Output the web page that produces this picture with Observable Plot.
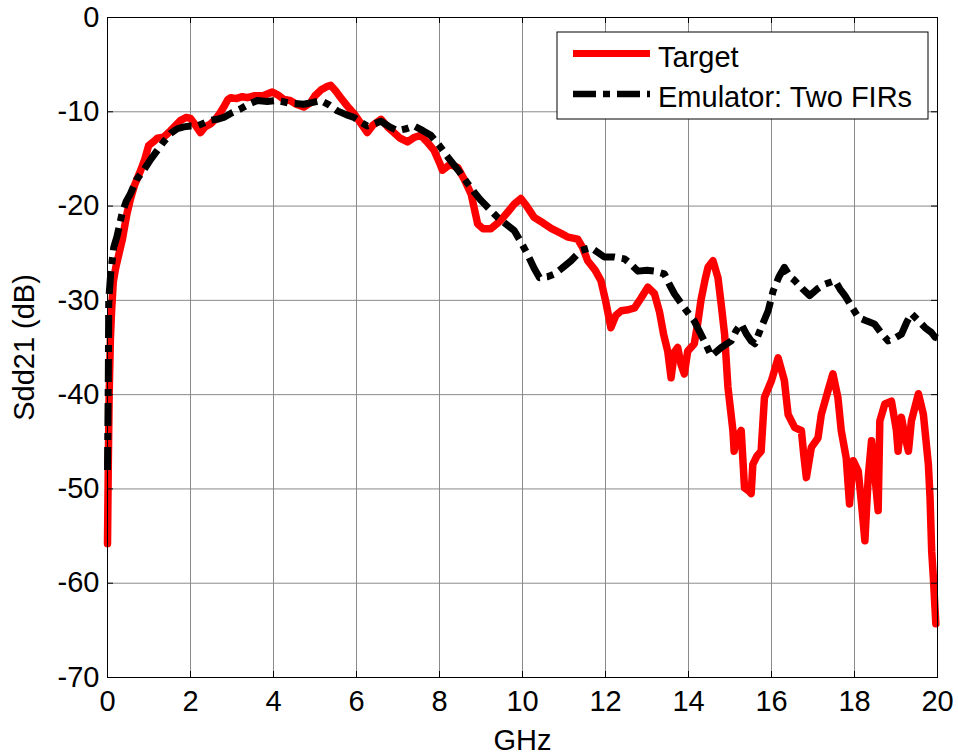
<!DOCTYPE html>
<html>
<head>
<meta charset="utf-8">
<script src="https://cdn.jsdelivr.net/npm/d3@7"></script>
<script src="https://cdn.jsdelivr.net/npm/@observablehq/plot@0.6"></script>
<style>
  html, body { margin: 0; padding: 0; background: #fff; }
  #chart { width: 958px; height: 756px; }
</style>
</head>
<body>
<div id="chart"></div>
<script>
// Sdd21 of the target channel versus the two-FIR emulator, in dB against GHz.
const targetFreq = [0.00,0.02,0.04,0.07,0.10,0.14,0.20,0.28,0.36,0.42,0.47,0.55,0.65,0.80,0.90,0.99,1.10,1.20,1.35,1.52,1.65,1.76,1.90,2.00,2.10,2.24,2.35,2.48,2.60,2.70,2.80,2.90,2.97,3.10,3.25,3.37,3.55,3.75,3.97,4.10,4.25,4.40,4.55,4.73,4.90,5.00,5.14,5.30,5.38,5.50,5.62,5.78,5.94,6.10,6.26,6.40,6.59,6.75,6.90,7.05,7.23,7.40,7.55,7.70,7.87,8.00,8.07,8.25,8.44,8.60,8.76,8.85,8.92,9.05,9.24,9.40,9.48,9.65,9.80,9.96,10.10,10.28,10.50,10.70,10.93,11.10,11.33,11.45,11.57,11.75,11.89,12.00,12.08,12.13,12.25,12.38,12.55,12.70,12.85,13.02,13.18,13.30,13.40,13.50,13.58,13.66,13.74,13.82,13.90,13.98,14.14,14.22,14.30,14.40,14.47,14.59,14.71,14.79,14.87,14.95,15.01,15.07,15.10,15.18,15.27,15.35,15.45,15.51,15.55,15.65,15.75,15.83,16.00,16.16,16.31,16.40,16.48,16.56,16.72,16.78,16.84,16.96,17.12,17.20,17.36,17.48,17.60,17.68,17.80,17.88,17.97,18.09,18.17,18.25,18.33,18.41,18.48,18.57,18.61,18.73,18.89,19.01,19.05,19.13,19.22,19.30,19.37,19.54,19.66,19.78,19.82,19.86,19.90,19.96];
const targetDb = [-55.8,-47,-40,-34,-31,-28,-26.5,-25,-23.5,-22,-20.8,-19.3,-17.8,-16.2,-15,-13.6,-13.2,-12.8,-12.7,-12.0,-11.4,-10.9,-10.6,-10.7,-11.3,-12.2,-11.6,-11.3,-10.8,-10.2,-9.5,-8.7,-8.5,-8.6,-8.4,-8.5,-8.3,-8.3,-7.9,-8.2,-8.7,-8.8,-9.2,-9.5,-9.0,-8.3,-7.7,-7.3,-7.2,-7.8,-8.5,-9.4,-10.2,-11.2,-12.2,-11.4,-10.8,-11.6,-12.2,-12.8,-13.2,-12.7,-12.5,-13.2,-14.1,-15.4,-16.2,-15.6,-15.9,-17.2,-18.7,-20.5,-21.9,-22.4,-22.4,-21.8,-21.5,-20.6,-19.8,-19.2,-20.0,-21.2,-21.8,-22.4,-22.9,-23.3,-23.5,-24.4,-25.8,-26.8,-27.9,-30.0,-31.8,-32.9,-31.6,-31.1,-31.0,-30.8,-29.8,-28.6,-29.3,-31.2,-33.6,-35.4,-38.2,-35.5,-35.0,-36.8,-37.8,-35.4,-34.6,-32.5,-30.0,-27.8,-26.5,-25.8,-27.6,-30.5,-33.6,-39.2,-41.5,-43.8,-46.0,-44.5,-43.8,-49.9,-50.2,-50.5,-47.4,-46.5,-46.0,-40.3,-38.5,-36.1,-38.5,-42.1,-42.8,-43.5,-43.8,-46.5,-48.8,-45.6,-44.6,-42.1,-39.6,-37.8,-40.3,-43.8,-46.7,-51.6,-47.0,-48.1,-51.6,-55.5,-48.8,-44.9,-48.1,-52.3,-42.8,-41.0,-40.7,-43.8,-46.0,-42.4,-44.5,-46.0,-42.8,-39.9,-42.1,-47.4,-50.9,-56.6,-59.4,-64.3];

const emulatorFreq = [0.00,0.02,0.03,0.08,0.15,0.23,0.35,0.45,0.55,0.70,0.87,1.05,1.20,1.35,1.52,1.68,1.84,2.00,2.16,2.32,2.48,2.64,2.80,3.00,3.20,3.40,3.61,3.85,4.09,4.40,4.73,4.95,5.14,5.35,5.54,5.75,5.94,6.10,6.26,6.42,6.59,6.80,6.99,7.20,7.39,7.60,7.79,8.00,8.20,8.45,8.68,8.85,9.00,9.20,9.40,9.60,9.80,9.96,10.12,10.28,10.41,10.60,10.77,10.95,11.17,11.41,11.65,11.97,12.20,12.46,12.62,12.78,13.00,13.18,13.42,13.55,13.66,13.90,14.14,14.38,14.55,14.79,15.03,15.15,15.27,15.40,15.51,15.60,15.75,15.92,16.04,16.18,16.31,16.45,16.56,16.75,16.92,17.10,17.28,17.53,17.65,17.77,17.95,18.09,18.30,18.48,18.65,18.81,18.97,19.13,19.25,19.37,19.55,19.70,19.85,19.94,20.00];
const emulatorDb = [-48,-38,-30,-27,-24.4,-23.2,-20.8,-19.5,-18.7,-17.2,-16.2,-15,-14.1,-13.2,-12.3,-11.8,-11.6,-11.5,-11.5,-11.2,-10.9,-10.8,-10.6,-10.1,-9.7,-9.2,-8.8,-8.9,-8.8,-9.1,-9.2,-9.0,-8.8,-9.3,-9.9,-10.3,-10.6,-11.1,-11.5,-11.3,-11.0,-11.6,-12.0,-11.8,-11.5,-12.0,-12.5,-13.6,-14.8,-16.2,-17.6,-18.6,-19.4,-20.3,-21.2,-21.9,-22.6,-23.8,-25.1,-26.6,-27.6,-27.5,-27.2,-26.6,-25.8,-24.7,-24.4,-25.4,-25.4,-25.6,-26.2,-26.9,-26.8,-26.9,-27.2,-28.4,-29.3,-30.8,-32.2,-34.3,-35.9,-35.0,-34.3,-33.2,-32.5,-33.6,-34.3,-34.6,-32.9,-31.1,-29.0,-27.5,-26.5,-27.5,-27.9,-28.8,-29.5,-28.8,-28.3,-27.9,-28.8,-29.5,-30.8,-31.8,-32.2,-32.5,-33.5,-34.3,-34.0,-33.6,-32.4,-31.4,-32.2,-32.9,-33.4,-33.9,-34.0];

const xTicks = [0, 2, 4, 6, 8, 10, 12, 14, 16, 18, 20];
const yTicks = [0, -10, -20, -30, -40, -50, -60, -70];
const seriesNames = ["Target", "Emulator: Two FIRs"];

const target = targetFreq.map((f, i) => ({f, db: targetDb[i]}));
const emulator = emulatorFreq.map((f, i) => ({f, db: emulatorDb[i]}));

const W = 958, H = 756;
const mTop = 17, mRight = 21, mBottom = 79, mLeft = 107;
const innerW = W - mLeft - mRight, innerH = H - mTop - mBottom;
const font = "'Liberation Sans', Arial, Helvetica, sans-serif";
const fs = 29;
const tickLen = 6;
const dashDot = "23 7 7 7";

const chart = Plot.plot({
  width: W,
  height: H,
  marginTop: mTop,
  marginRight: mRight,
  marginBottom: mBottom,
  marginLeft: mLeft,
  style: {fontFamily: font, fontSize: `${fs}px`, background: "#fff", color: "#000", overflow: "visible"},
  x: {domain: [0, 20]},
  y: {domain: [-70, 0]},
  marks: [
    Plot.gridX(xTicks, {stroke: "#8a8a8a", strokeOpacity: 1, strokeWidth: 1}),
    Plot.gridY(yTicks, {stroke: "#8a8a8a", strokeOpacity: 1, strokeWidth: 1}),
    Plot.line(target, {x: "f", y: "db", stroke: "#ff0000", strokeWidth: 7.5, strokeLinejoin: "round", strokeLinecap: "round"}),
    Plot.line(emulator, {x: "f", y: "db", stroke: "#000", strokeWidth: 7, strokeLinejoin: "round", strokeLinecap: "butt", strokeDasharray: dashDot}),
    Plot.frame({stroke: "#000", strokeWidth: 1}),
    // inward tick marks on all four sides of the box
    Plot.tickX(xTicks, {insetTop: innerH - tickLen, stroke: "#000"}),
    Plot.tickX(xTicks, {insetBottom: innerH - tickLen, stroke: "#000"}),
    Plot.tickY(yTicks, {insetRight: innerW - tickLen, stroke: "#000"}),
    Plot.tickY(yTicks, {insetLeft: innerW - tickLen, stroke: "#000"}),
    Plot.axisX(xTicks, {tickSize: 0, tickPadding: 13, tickFormat: (d) => String(d), label: null, fontSize: fs}),
    Plot.axisY(yTicks, {tickSize: 0, tickPadding: 8, tickFormat: (d) => String(d), label: null, fontSize: fs}),
    Plot.text(["GHz"], {frameAnchor: "bottom", dy: 63, textAnchor: "middle", lineAnchor: "middle", fontSize: fs}),
    Plot.text(["Sdd21 (dB)"], {frameAnchor: "left", dx: -83, rotate: -90, textAnchor: "middle", lineAnchor: "middle", fontSize: fs})
  ]
});

document.getElementById("chart").appendChild(chart);

// legend box in the upper right corner of the axes
const svg = d3.select(chart);
const lg = svg.append("g").attr("font-family", font).attr("font-size", fs).attr("text-anchor", "start");
const box = {x: 557, y: 32, w: 371, h: 87};
lg.append("rect").attr("x", box.x).attr("y", box.y).attr("width", box.w).attr("height", box.h)
  .attr("fill", "#fff").attr("stroke", "#000").attr("stroke-width", 1);
const rows = [
  {name: seriesNames[0], stroke: "#ff0000", width: 7, dash: null, ly: 53.5, ty: 67},
  {name: seriesNames[1], stroke: "#000", width: 6.5, dash: dashDot, ly: 94, ty: 107}
];
for (const r of rows) {
  const ln = lg.append("line").attr("x1", box.x + 16).attr("x2", box.x + 93)
    .attr("y1", r.ly).attr("y2", r.ly).attr("stroke", r.stroke).attr("stroke-width", r.width);
  if (r.dash) ln.attr("stroke-dasharray", r.dash);
  lg.append("text").attr("x", box.x + 101).attr("y", r.ty).attr("fill", "#000").text(r.name);
}
</script>
</body>
</html>
